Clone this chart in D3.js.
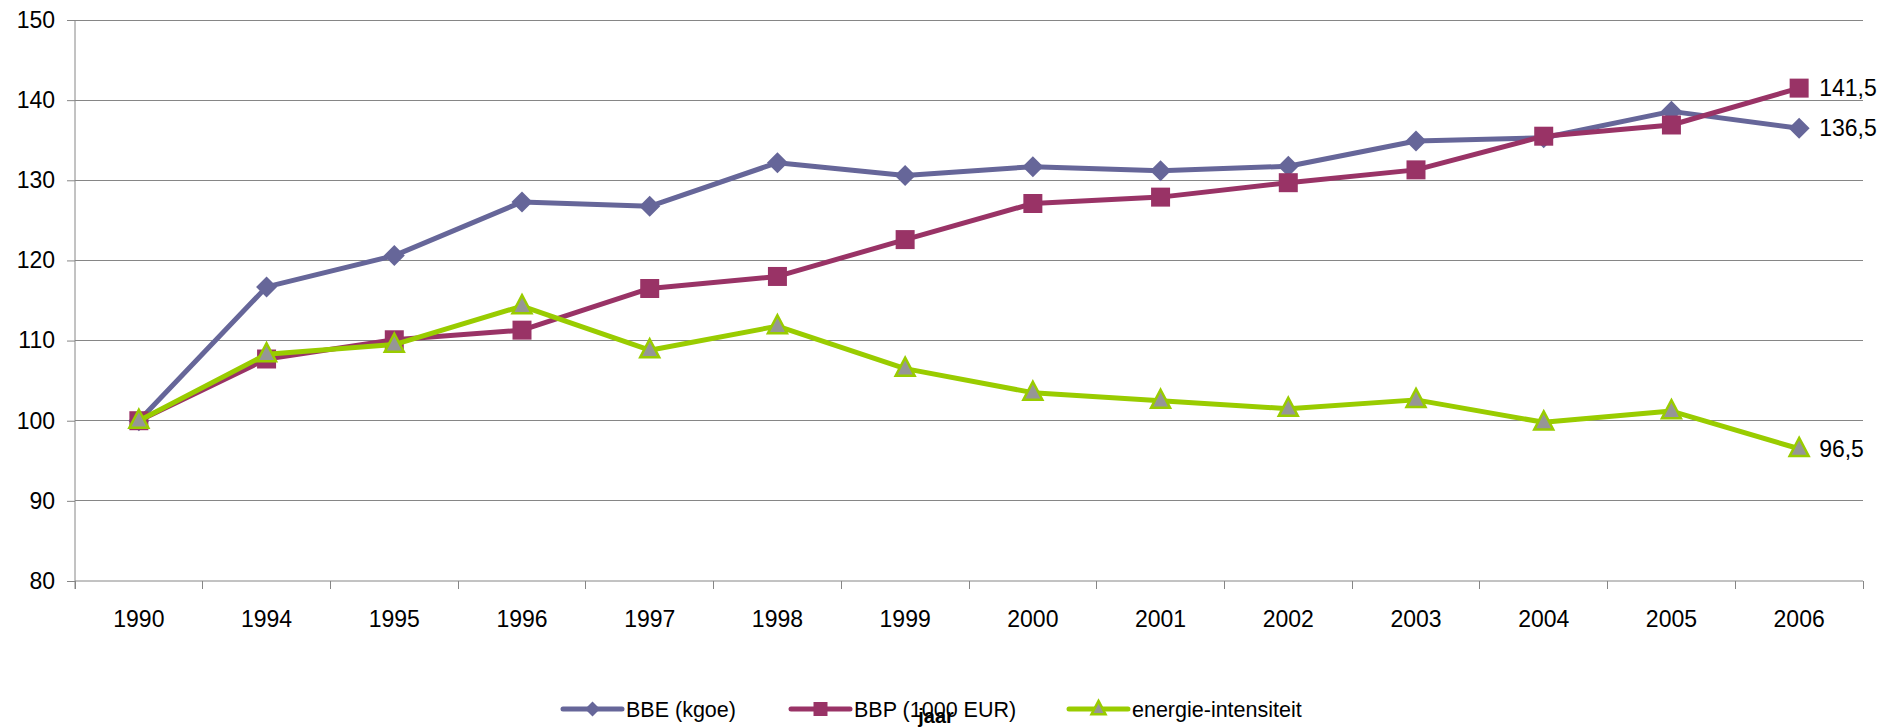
<!DOCTYPE html>
<html>
<head>
<meta charset="utf-8">
<script src="https://cdn.jsdelivr.net/npm/d3@7/dist/d3.min.js"></script>
<style>
  html, body { margin: 0; padding: 0; background: #fff; }
  svg { display: block; }
  text { font-family: "Liberation Sans", Arial, sans-serif; fill: #000; }
</style>
</head>
<body>
<script>
const years = ["1990","1994","1995","1996","1997","1998","1999","2000","2001","2002","2003","2004","2005","2006"];
const bbe = [100, 116.7, 120.6, 127.3, 126.75, 132.2, 130.6, 131.7, 131.2, 131.75, 134.9, 135.3, 138.6, 136.5];
const bbp = [100, 107.7, 110.1, 111.3, 116.5, 118.0, 122.6, 127.1, 127.9, 129.7, 131.3, 135.5, 136.9, 141.5];
const intensiteit = [100, 108.3, 109.5, 114.3, 108.8, 111.8, 106.5, 103.5, 102.5, 101.5, 102.6, 99.8, 101.2, 96.5];
const yTicks = [80, 90, 100, 110, 120, 130, 140, 150];
const seriesNames = ["BBE (kgoe)", "BBP (1000 EUR)", "energie-intensiteit"];
const endLabels = ["136,5", "141,5", "96,5"];
const xTitle = "jaar";

const W = 1894, H = 728;
const mLeft = 75, mRight = 1863, mTop = 20, mBottom = 581;
const svg = d3.select("body").append("svg").attr("width", W).attr("height", H);

const x = d3.scaleBand().domain(years).range([mLeft, mRight]).paddingInner(0).paddingOuter(0);
const y = d3.scaleLinear().domain([80, 150]).range([mBottom, mTop]);
const cx = d => x(d) + x.bandwidth() / 2;
const gridColor = "#868686";

// gridlines
svg.append("g").selectAll("line").data(yTicks.filter(t => t > 80)).join("line")
  .attr("x1", mLeft).attr("x2", mRight)
  .attr("y1", d => y(d)).attr("y2", d => y(d))
  .attr("stroke", gridColor).attr("stroke-width", 1).attr("shape-rendering", "crispEdges");

// y axis
const yAxis = svg.append("g").attr("transform", `translate(${mLeft},0)`)
  .call(d3.axisLeft(y).tickValues(yTicks).tickSize(8).tickPadding(12).tickFormat(d3.format("d")));
yAxis.select(".domain").attr("stroke", gridColor).attr("d", `M0,${mTop}V${mBottom + 8}`);
yAxis.selectAll(".tick line").attr("stroke", gridColor);
yAxis.selectAll("text").style("font-size", "23px").style("font-family", "Liberation Sans, Arial, sans-serif");

// x axis
const xAxis = svg.append("g").attr("transform", `translate(0,${mBottom})`)
  .call(d3.axisBottom(x).tickSize(0).tickPadding(30));
xAxis.select(".domain").attr("stroke", gridColor).attr("d", `M${mLeft},0H${mRight}`);
xAxis.selectAll("text").style("font-size", "23px").style("font-family", "Liberation Sans, Arial, sans-serif");
// boundary ticks
const bounds = years.map(d => x(d)).concat([mRight]);
svg.append("g").selectAll("line").data(bounds).join("line")
  .attr("x1", d => d).attr("x2", d => d)
  .attr("y1", mBottom).attr("y2", mBottom + 8)
  .attr("stroke", gridColor).attr("shape-rendering", "crispEdges");

const series = [
  { name: seriesNames[0], values: bbe, color: "#666699", marker: "diamond", label: endLabels[0] },
  { name: seriesNames[1], values: bbp, color: "#993366", marker: "square", label: endLabels[1] },
  { name: seriesNames[2], values: intensiteit, color: "#99CC00", marker: "triangle", label: endLabels[2] }
];

function markerPath(type, s) {
  if (type === "diamond") return `M0,${-s}L${s},0L0,${s}L${-s},0Z`;
  if (type === "square") return `M${-s},${-s}H${s}V${s}H${-s}Z`;
  return `M0,${-s * 1.15}L${s},${s * 0.75}L${-s},${s * 0.75}Z`;
}
function drawMarker(g, type, color, size) {
  const p = g.append("path").attr("d", markerPath(type, size));
  if (type === "triangle") p.attr("fill", "#969696").attr("stroke", color).attr("stroke-width", 2.5).attr("stroke-linejoin", "miter");
  else p.attr("fill", color);
}

const line = d3.line().x((d, i) => cx(years[i])).y(d => y(d));

series.forEach(s => {
  const g = svg.append("g");
  g.append("path").datum(s.values).attr("d", line)
    .attr("fill", "none").attr("stroke", s.color).attr("stroke-width", 5)
    .attr("stroke-linejoin", "round").attr("stroke-linecap", "round");
  s.values.forEach((v, i) => {
    const m = g.append("g").attr("transform", `translate(${cx(years[i])},${y(v)})`);
    drawMarker(m, s.marker, s.color, s.marker === "square" ? 9.5 : (s.marker === "diamond" ? 10.5 : 9.5));
  });
  const last = s.values.length - 1;
  svg.append("text").attr("x", cx(years[last]) + 20).attr("y", y(s.values[last]))
    .attr("dy", "0.35em").style("font-size", "23px").text(s.label);
});

// legend
const legendX = [563, 791, 1069];
const legendY = 709;
series.forEach((s, i) => {
  const g = svg.append("g").attr("transform", `translate(${legendX[i]},${legendY})`);
  g.append("line").attr("x1", 0).attr("x2", 59).attr("y1", 0).attr("y2", 0)
    .attr("stroke", s.color).attr("stroke-width", 5).attr("stroke-linecap", "round");
  const m = g.append("g").attr("transform", "translate(29.5,0)");
  drawMarker(m, s.marker, s.color, s.marker === "diamond" ? 7.5 : 7);
  g.append("text").attr("x", 63).attr("y", 0).attr("dy", "0.35em")
    .style("font-size", "21.5px").text(s.name);
});

// axis title
svg.append("text").attr("x", 936).attr("y", 723).attr("text-anchor", "middle")
  .style("font-size", "20px").style("font-weight", "bold").text(xTitle);
</script>
</body>
</html>
